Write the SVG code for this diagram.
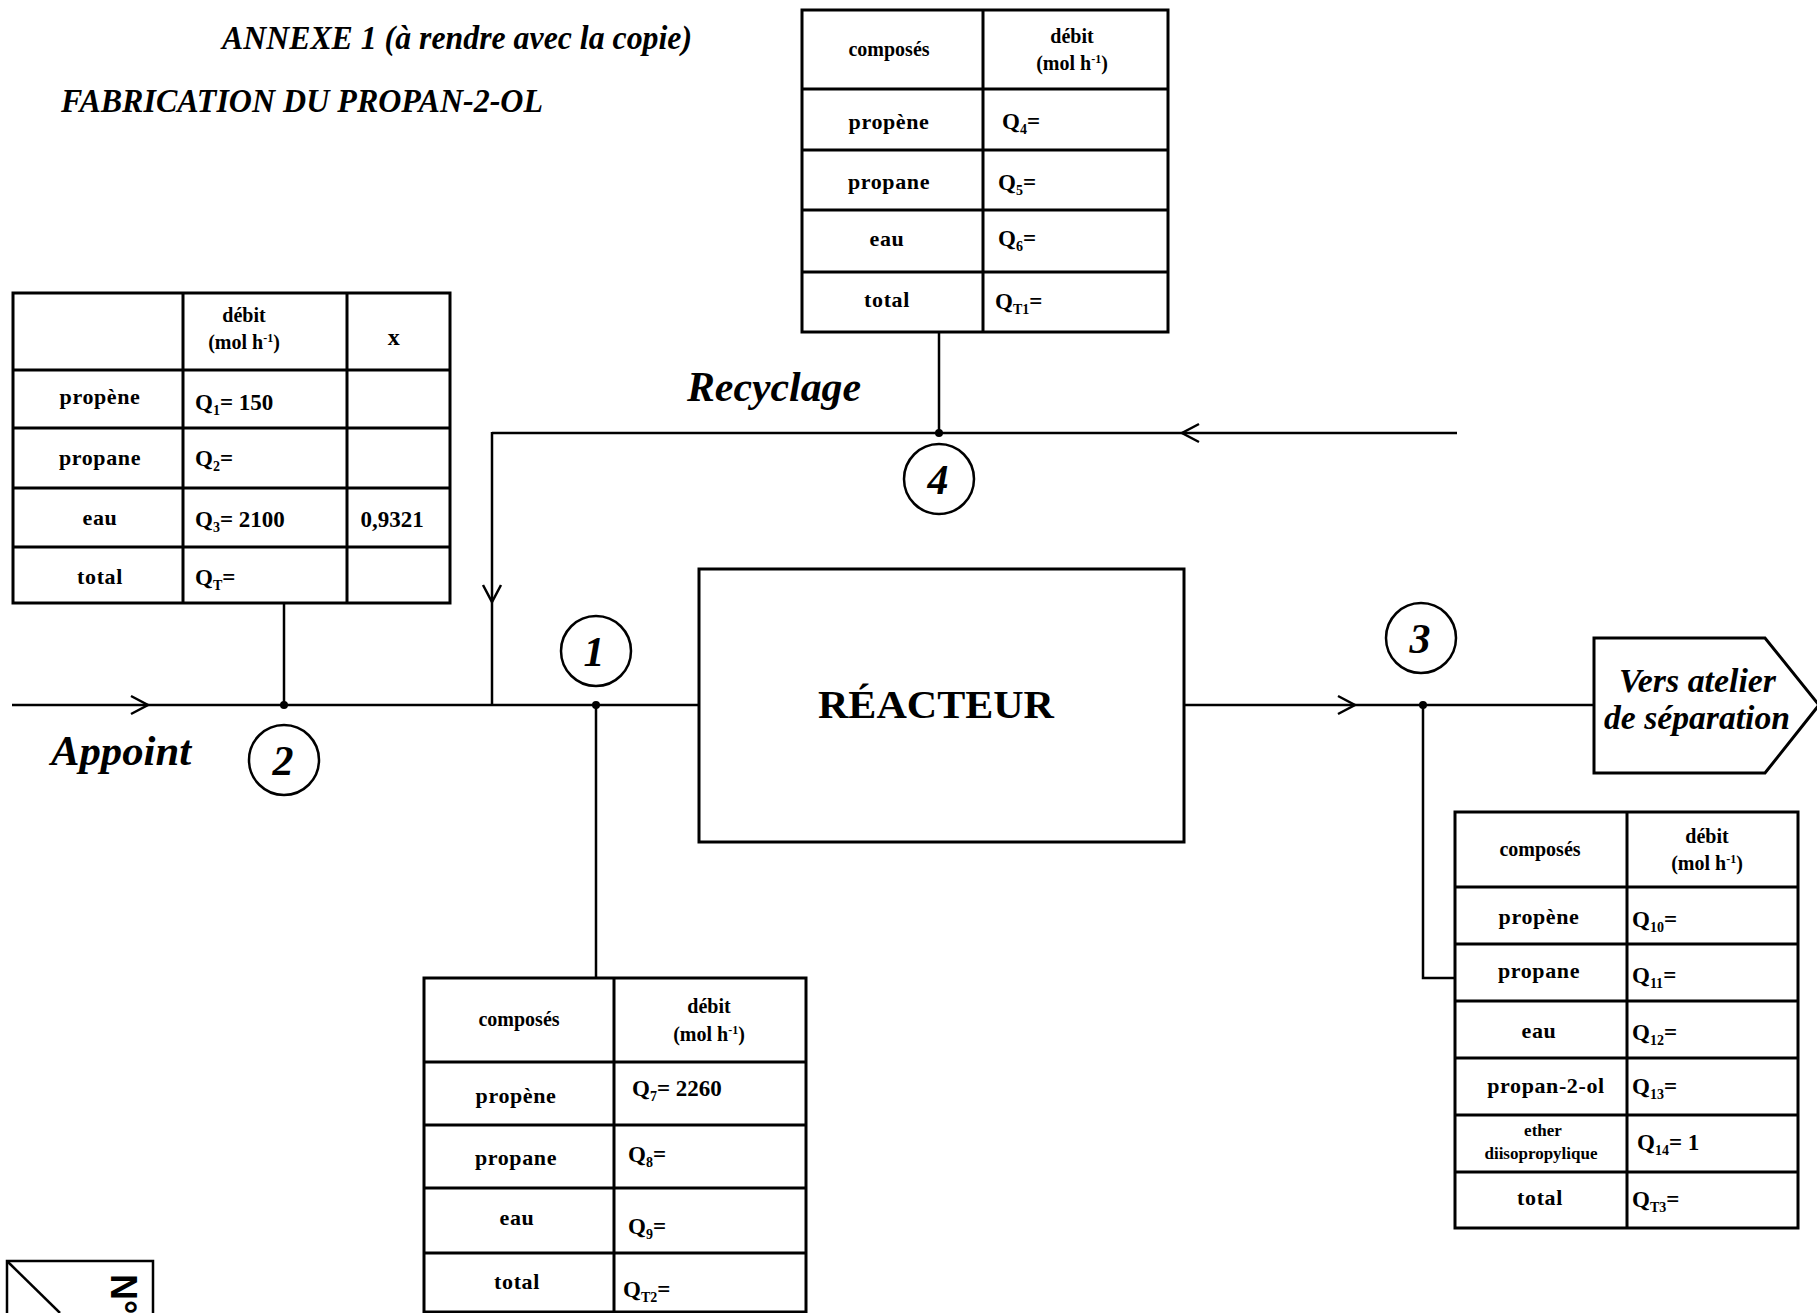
<svg xmlns="http://www.w3.org/2000/svg" width="1817" height="1313" viewBox="0 0 1817 1313">
<style>
  .bg{fill:#ffffff}
  .tb{fill:none;stroke:#000;stroke-width:3}
  .ln{stroke:#000;stroke-width:2.5;fill:none}
  .dot{fill:#000}
  .lbl{font-family:"Liberation Serif",serif;font-weight:bold;font-size:22px;letter-spacing:0.6px;fill:#000;text-anchor:middle}
  .hd{font-family:"Liberation Serif",serif;font-weight:bold;font-size:20px;fill:#000;text-anchor:middle}
  .q{font-family:"Liberation Serif",serif;font-weight:bold;font-size:23px;fill:#000}
  .sm{font-family:"Liberation Serif",serif;font-weight:bold;font-size:17px;fill:#000;text-anchor:middle}
  .ti{font-family:"Liberation Serif",serif;font-weight:bold;font-style:italic;font-size:33px;fill:#000}
  .big{font-family:"Liberation Serif",serif;font-weight:bold;font-style:italic;font-size:42px;fill:#000}
  .num{font-family:"Liberation Serif",serif;font-weight:bold;font-style:italic;font-size:42px;fill:#000;text-anchor:middle}
  .circ{fill:#fff;stroke:#000;stroke-width:2.5}
</style>
<defs>
  <marker id="chev" markerUnits="userSpaceOnUse" viewBox="-20 -12 22 24" markerWidth="22" markerHeight="24" refX="0" refY="0" orient="auto" overflow="visible">
    <path d="M-17,-9 L0,0 L-17,9" fill="none" stroke="#000" stroke-width="2.5"/>
  </marker>
</defs>
<rect class="bg" x="0" y="0" width="1817" height="1313"/>

<g id="titles">
  <text class="ti" x="222" y="49" textLength="470" lengthAdjust="spacingAndGlyphs">ANNEXE 1 (à rendre avec la copie)</text>
  <text class="ti" x="61" y="112" textLength="482" lengthAdjust="spacingAndGlyphs">FABRICATION DU PROPAN-2-OL</text>
</g>

<g id="connectors">
  <line class="ln" x1="12" y1="705" x2="148" y2="705" marker-end="url(#chev)"/>
  <line class="ln" x1="148" y1="705" x2="699" y2="705"/>
  <line class="ln" x1="284" y1="603" x2="284" y2="705"/>
  <line class="ln" x1="1457" y1="433" x2="1182" y2="433" marker-end="url(#chev)"/>
  <line class="ln" x1="1182" y1="433" x2="492" y2="433"/>
  <line class="ln" x1="939" y1="332" x2="939" y2="433"/>
  <line class="ln" x1="492" y1="432" x2="492" y2="602" marker-end="url(#chev)"/>
  <line class="ln" x1="492" y1="602" x2="492" y2="705"/>
  <line class="ln" x1="596" y1="705" x2="596" y2="978"/>
  <line class="ln" x1="1184" y1="705" x2="1355" y2="705" marker-end="url(#chev)"/>
  <line class="ln" x1="1355" y1="705" x2="1594" y2="705"/>
  <polyline class="ln" points="1423,705 1423,978 1455,978"/>
  <circle class="dot" cx="284" cy="705" r="4"/>
  <circle class="dot" cx="596" cy="705" r="4"/>
  <circle class="dot" cx="939" cy="433" r="4"/>
  <circle class="dot" cx="1423" cy="705" r="4"/>
</g>

<g id="table-appoint">
  <rect class="tb" x="13" y="293" width="437" height="310"/>
  <path class="tb" d="M183,293V603M347,293V603M13,370H450M13,428H450M13,488H450M13,547H450"/>
  <text class="hd" x="244" y="322">débit</text>
  <text class="hd" x="244" y="349">(mol h<tspan font-size="12" dy="-7">-1</tspan><tspan dy="7">)</tspan></text>
  <text class="lbl" x="394" y="345" style="font-size:24px">x</text>
  <text class="lbl" x="100" y="404">propène</text>
  <text class="lbl" x="100" y="465">propane</text>
  <text class="lbl" x="100" y="525">eau</text>
  <text class="lbl" x="100" y="584">total</text>
  <text class="q" x="195" y="410">Q<tspan font-size="14" dy="5">1</tspan><tspan dy="-5">= 150</tspan></text>
  <text class="q" x="195" y="466">Q<tspan font-size="14" dy="5">2</tspan><tspan dy="-5">=</tspan></text>
  <text class="q" x="195" y="527">Q<tspan font-size="14" dy="5">3</tspan><tspan dy="-5">= 2100</tspan></text>
  <text class="q" x="195" y="585">Q<tspan font-size="14" dy="5">T</tspan><tspan dy="-5">=</tspan></text>
  <text class="q" x="392" y="527" text-anchor="middle">0,9321</text>
</g>

<g id="table-recyclage">
  <rect class="tb" x="802" y="10" width="366" height="322"/>
  <path class="tb" d="M983,10V332M802,89H1168M802,150H1168M802,210H1168M802,272H1168"/>
  <text class="hd" x="889" y="56">composés</text>
  <text class="hd" x="1072" y="43">débit</text>
  <text class="hd" x="1072" y="70">(mol h<tspan font-size="12" dy="-7">-1</tspan><tspan dy="7">)</tspan></text>
  <text class="lbl" x="889" y="129">propène</text>
  <text class="lbl" x="889" y="189">propane</text>
  <text class="lbl" x="887" y="246">eau</text>
  <text class="lbl" x="887" y="307">total</text>
  <text class="q" x="1002" y="129">Q<tspan font-size="14" dy="5">4</tspan><tspan dy="-5">=</tspan></text>
  <text class="q" x="998" y="190">Q<tspan font-size="14" dy="5">5</tspan><tspan dy="-5">=</tspan></text>
  <text class="q" x="998" y="246">Q<tspan font-size="14" dy="5">6</tspan><tspan dy="-5">=</tspan></text>
  <text class="q" x="995" y="309">Q<tspan font-size="14" dy="5">T1</tspan><tspan dy="-5">=</tspan></text>
</g>

<g id="table-purge">
  <rect class="tb" x="424" y="978" width="382" height="334"/>
  <path class="tb" d="M614,978V1313M424,1062H806M424,1125H806M424,1188H806M424,1253H806"/>
  <text class="hd" x="519" y="1026">composés</text>
  <text class="hd" x="709" y="1013">débit</text>
  <text class="hd" x="709" y="1041">(mol h<tspan font-size="12" dy="-7">-1</tspan><tspan dy="7">)</tspan></text>
  <text class="lbl" x="516" y="1103">propène</text>
  <text class="lbl" x="516" y="1165">propane</text>
  <text class="lbl" x="517" y="1225">eau</text>
  <text class="lbl" x="517" y="1289">total</text>
  <text class="q" x="632" y="1096">Q<tspan font-size="14" dy="5">7</tspan><tspan dy="-5">= 2260</tspan></text>
  <text class="q" x="628" y="1162">Q<tspan font-size="14" dy="5">8</tspan><tspan dy="-5">=</tspan></text>
  <text class="q" x="628" y="1234">Q<tspan font-size="14" dy="5">9</tspan><tspan dy="-5">=</tspan></text>
  <text class="q" x="623" y="1297">Q<tspan font-size="14" dy="5">T2</tspan><tspan dy="-5">=</tspan></text>
</g>

<g id="table-sortie">
  <rect class="tb" x="1455" y="812" width="343" height="416"/>
  <path class="tb" d="M1627,812V1228M1455,887H1798M1455,944H1798M1455,1001H1798M1455,1058H1798M1455,1115H1798M1455,1172H1798"/>
  <text class="hd" x="1540" y="856">composés</text>
  <text class="hd" x="1707" y="843">débit</text>
  <text class="hd" x="1707" y="870">(mol h<tspan font-size="12" dy="-7">-1</tspan><tspan dy="7">)</tspan></text>
  <text class="lbl" x="1539" y="924">propène</text>
  <text class="lbl" x="1539" y="978">propane</text>
  <text class="lbl" x="1539" y="1038">eau</text>
  <text class="lbl" x="1546" y="1093">propan-2-ol</text>
  <text class="sm" x="1543" y="1136">ether</text>
  <text class="sm" x="1541" y="1159">diisopropylique</text>
  <text class="lbl" x="1540" y="1205">total</text>
  <text class="q" x="1632" y="927">Q<tspan font-size="14" dy="5">10</tspan><tspan dy="-5">=</tspan></text>
  <text class="q" x="1632" y="983">Q<tspan font-size="14" dy="5">11</tspan><tspan dy="-5">=</tspan></text>
  <text class="q" x="1632" y="1040">Q<tspan font-size="14" dy="5">12</tspan><tspan dy="-5">=</tspan></text>
  <text class="q" x="1632" y="1094">Q<tspan font-size="14" dy="5">13</tspan><tspan dy="-5">=</tspan></text>
  <text class="q" x="1637" y="1150">Q<tspan font-size="14" dy="5">14</tspan><tspan dy="-5">= 1</tspan></text>
  <text class="q" x="1632" y="1207">Q<tspan font-size="14" dy="5">T3</tspan><tspan dy="-5">=</tspan></text>
</g>

<g id="reacteur">
  <rect class="tb" x="699" y="569" width="485" height="273" fill="#fff"/>
  <text x="936" y="718" text-anchor="middle" textLength="236" lengthAdjust="spacingAndGlyphs" style="font-family:'Liberation Serif',serif;font-weight:bold;font-size:40px">RÉACTEUR</text>
</g>

<g id="separation">
  <polygon class="tb" points="1594,638 1765,638 1819,705 1765,773 1594,773" fill="#fff"/>
  <text class="ti" x="1619" y="692" textLength="157" lengthAdjust="spacingAndGlyphs">Vers atelier</text>
  <text class="ti" x="1604" y="729" textLength="186" lengthAdjust="spacingAndGlyphs">de séparation</text>
</g>

<g id="point-1"><circle class="circ" cx="596" cy="651" r="35"/><text class="num" x="594" y="666">1</text></g>
<g id="point-2"><circle class="circ" cx="284" cy="760" r="35"/><text class="num" x="283" y="775">2</text></g>
<g id="point-3"><circle class="circ" cx="1421" cy="638" r="35"/><text class="num" x="1420" y="653">3</text></g>
<g id="point-4"><circle class="circ" cx="939" cy="479" r="35"/><text class="num" x="938" y="494">4</text></g>

<g id="labels">
  <text class="big" x="51" y="765" textLength="140" lengthAdjust="spacingAndGlyphs">Appoint</text>
  <text class="big" x="687" y="401" textLength="174" lengthAdjust="spacingAndGlyphs">Recyclage</text>
</g>

<g id="numero">
  <polyline class="ln" points="7,1313 7,1261 153,1261 153,1313" stroke-width="2"/>
  <line class="ln" x1="7" y1="1261" x2="60" y2="1313" stroke-width="2"/>
  <text transform="translate(111,1274) rotate(90)" style="font-family:'Liberation Sans',sans-serif;font-weight:bold;font-size:36px">N°</text>
</g>
</svg>
